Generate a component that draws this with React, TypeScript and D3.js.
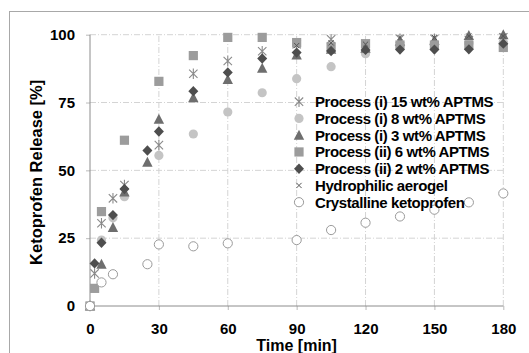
import React, { useEffect, useRef } from 'react';
import * as d3 from 'd3';

const times = [0, 2, 5, 10, 15, 25, 30, 45, 60, 75, 90, 105, 120, 135, 150, 165, 180];

// values per series, null = no point at that time
const p15 = [0, 12, 30.5, 39.7, 44.6, null, 59.3, 85.6, 90.3, 93.9, 96.5, 98.3, 96.5, 98.5, 98.5, 98, 99];
const p8 = [0, null, 24.3, 32.5, 40.3, null, 55.5, 63.4, 71.5, 78.6, 83.8, 88.2, 93, 96, 96, 97, 97];
const p3 = [0, null, 15.4, 28.9, 42, 53, 68.8, 76.8, 83.5, 87.6, 92.5, 94.6, 95, 97.6, 98, 99.7, 100];
const p6 = [0, 6.5, 34.8, null, 61.1, null, 82.8, 92.3, 99, 99, 97.1, 95.5, 96.7, 96.2, 96.2, 96.2, 95.3];
const p2 = [0, 15.7, 23.3, 33.5, 43.1, 57.3, 64.3, 79.2, 86.1, 91.2, 93.4, 94, 94.4, 94.5, 94.5, 94.6, 96.7];
const aerogel = [0, null, null, null, null, null, null, null, null, null, 96, 97, 96.5, 99, 99, 99.5, 99.5];
const crystalline = [0, null, 8.7, 11.7, null, 15.4, 22.7, 22, 23.1, null, 24.3, 28, 30.7, 33, 35.5, 38.2, 41.5];

const seriesNames = [
  'Process (i) 15 wt% APTMS',
  'Process (i) 8 wt% APTMS',
  'Process (i) 3 wt% APTMS',
  'Process (ii) 6 wt% APTMS',
  'Process (ii) 2 wt% APTMS',
  'Hydrophilic aerogel',
  'Crystalline ketoprofen',
];
const seriesValues = [p15, p8, p3, p6, p2, aerogel, crystalline];
const seriesMarkers = ['star', 'circle', 'triangle', 'square', 'diamond', 'x', 'open'];

const xTicks = [0, 30, 60, 90, 120, 150, 180];
const yTicks = [0, 25, 50, 75, 100];

const FONT = 'Liberation Sans, Arial, sans-serif';

function drawMarker(g: d3.Selection<SVGGElement, unknown, null, undefined>, type: string, cx: number, cy: number) {
  const r = 4.6;
  if (type === 'star') {
    const a = 4.2;
    const v = 5.2;
    g.append('path')
      .attr('d', `M${cx - a},${cy - a}L${cx + a},${cy + a}M${cx - a},${cy + a}L${cx + a},${cy - a}M${cx},${cy - v}L${cx},${cy + v}`)
      .attr('stroke', '#8a8a8a').attr('stroke-width', 1.1).attr('fill', 'none');
  } else if (type === 'circle') {
    g.append('circle').attr('cx', cx).attr('cy', cy).attr('r', r).attr('fill', '#c4c4c4');
  } else if (type === 'triangle') {
    g.append('path')
      .attr('d', `M${cx},${cy - 5.5}L${cx + 5.2},${cy + 4.5}L${cx - 5.2},${cy + 4.5}Z`)
      .attr('fill', '#6e6e6e');
  } else if (type === 'square') {
    g.append('rect').attr('x', cx - 4.6).attr('y', cy - 4.6).attr('width', 9.2).attr('height', 9.2).attr('fill', '#9c9c9c');
  } else if (type === 'diamond') {
    g.append('path')
      .attr('d', `M${cx},${cy - 5.2}L${cx + 5},${cy}L${cx},${cy + 5.2}L${cx - 5},${cy}Z`)
      .attr('fill', '#4e4e4e');
  } else if (type === 'x') {
    const a = 2.6;
    g.append('path')
      .attr('d', `M${cx - a},${cy - a}L${cx + a},${cy + a}M${cx - a},${cy + a}L${cx + a},${cy - a}`)
      .attr('stroke', '#555').attr('stroke-width', 1).attr('fill', 'none');
  } else {
    g.append('circle').attr('cx', cx).attr('cy', cy).attr('r', 4.6)
      .attr('fill', '#fff').attr('stroke', '#9a9a9a').attr('stroke-width', 1);
  }
}

export default function App() {
  const ref = useRef<SVGSVGElement>(null);

  useEffect(() => {
    if (!ref.current) return;
    const width = 529;
    const height = 353;
    const svg = d3.select(ref.current);
    svg.selectAll('*').remove();
    svg.attr('width', width).attr('height', height);

    svg.append('rect').attr('width', width).attr('height', height).attr('fill', '#fff');
    // outer chart frame (cut off at right and bottom)
    svg.append('rect').attr('x', 9.5).attr('y', 11.5).attr('width', 700).attr('height', 500)
      .attr('fill', 'none').attr('stroke', '#a8a8a8');

    const x = d3.scaleLinear().domain([0, 180]).range([90, 503.3]);
    const y = d3.scaleLinear().domain([0, 100]).range([306, 34.7]);

    const grid = svg.append('g');
    xTicks.filter((t) => t > 0).forEach((t) => {
      grid.append('line').attr('x1', x(t)).attr('x2', x(t)).attr('y1', y(0)).attr('y2', y(100))
        .attr('stroke', '#d4d4d4').attr('stroke-dasharray', '6,2,1,2');
    });
    yTicks.filter((t) => t > 0).forEach((t) => {
      grid.append('line').attr('x1', x(0)).attr('x2', x(180)).attr('y1', y(t)).attr('y2', y(t))
        .attr('stroke', '#d4d4d4').attr('stroke-dasharray', '6,2,1,2');
    });

    const xAxis = d3.axisBottom(x).tickValues(xTicks).tickSize(4).tickPadding(13.5);
    const gx = svg.append('g').attr('transform', `translate(0,${y(0)})`).call(xAxis as any);
    gx.select('.domain').attr('stroke', '#8c8c8c').attr('d', `M${x(0)},0H${x(180)}`);
    gx.selectAll('line').attr('stroke', '#8c8c8c').attr('stroke-width', 0.6);
    gx.selectAll('text').attr('font-family', FONT).attr('font-size', 15).attr('font-weight', 'bold').attr('fill', '#000');

    const yAxis = d3.axisLeft(y).tickValues(yTicks).tickSize(4).tickPadding(11);
    const gy = svg.append('g').attr('transform', `translate(${x(0)},0)`).call(yAxis as any);
    gy.select('.domain').attr('stroke', '#8c8c8c').attr('d', `M0,${y(0)}V${y(100)}`);
    gy.selectAll('line').attr('stroke', '#8c8c8c').attr('stroke-width', 0.6);
    gy.selectAll('text').attr('font-family', FONT).attr('font-size', 15).attr('font-weight', 'bold').attr('fill', '#000');

    svg.append('text')
      .attr('transform', `translate(42,${(y(0) + y(100)) / 2 + 2}) rotate(-90)`)
      .attr('text-anchor', 'middle')
      .attr('font-family', FONT).attr('font-size', 16.5).attr('font-weight', 'bold')
      .text('Ketoprofen Release [%]');

    svg.append('text')
      .attr('x', (x(0) + x(180)) / 2).attr('y', 350.5)
      .attr('text-anchor', 'middle')
      .attr('font-family', FONT).attr('font-size', 16).attr('font-weight', 'bold')
      .text('Time [min]');

    const marks = svg.append('g');
    seriesValues.forEach((vals, si) => {
      const g = marks.append('g');
      vals.forEach((v, i) => {
        if (v === null) return;
        drawMarker(g as any, seriesMarkers[si], x(times[i]), y(v));
      });
    });

    const legend = svg.append('g');
    seriesNames.forEach((name, i) => {
      const ly = 101.7 + i * 16.75;
      drawMarker(legend as any, seriesMarkers[i], 299, ly);
      legend.append('text').attr('x', 315).attr('y', ly).attr('dy', '0.36em')
        .attr('font-family', FONT).attr('font-size', 15).attr('font-weight', 'bold')
        .attr('letter-spacing', -0.4)
        .text(name);
    });
  }, []);

  return <svg ref={ref} style={{ position: 'absolute', left: 0, top: 0, display: 'block' }} />;
}
